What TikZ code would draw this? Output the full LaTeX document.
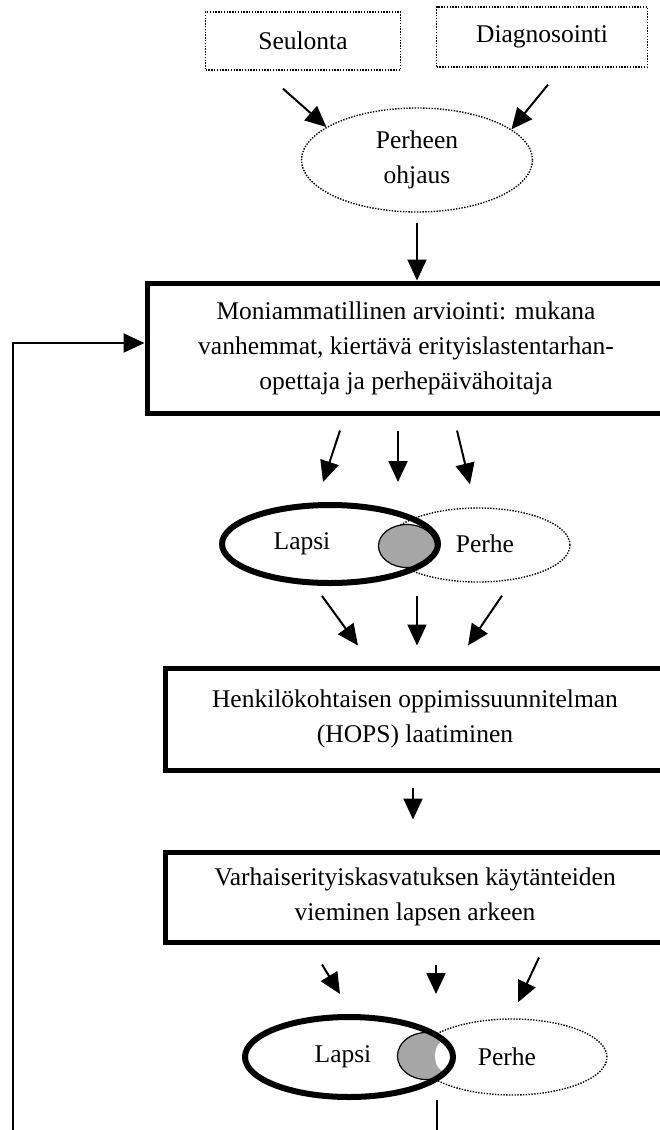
\documentclass[tikz,border=0pt]{standalone}
\usepackage{fontspec}
\setmainfont{Liberation Serif}
\usetikzlibrary{arrows.meta,shapes.geometric}

\begin{document}
\begin{tikzpicture}[
  x=1pt, y=-1pt,
  font=\fontsize{25.5}{35}\selectfont,
  dotbox/.style={draw, dash pattern=on 1.4pt off 1.4pt, line width=1.4pt, inner sep=0pt},
  dotell/.style={draw, ellipse, dash pattern=on 1.4pt off 1.4pt, line width=1.4pt, inner sep=0pt},
  mainbox/.style={draw, line width=5pt, align=center, inner sep=0pt, minimum width=500pt},
  lapsiell/.style={draw, ellipse, line width=6pt, inner sep=0pt},
  overlap/.style={draw, ellipse, fill=black!35, line width=1.2pt, inner sep=0pt},
  arr/.style={-{Triangle[length=21pt,width=19pt]}, line width=2pt},
  lab/.style={inner sep=0pt}
]
  \useasboundingbox (0,0) rectangle (660,1130);
  \clip (0,0) rectangle (660,1130);
  %% --- Top: sources and family guidance ---
  \node[dotbox, minimum width=195pt, minimum height=58pt] (seul) at (303,41) {Seulonta};
  \node[dotbox, minimum width=211pt, minimum height=60pt] (diag) at (542,37) {Diagnosointi};
  \node[dotell, minimum width=231pt, minimum height=104pt, align=center] (ohj) at (417,160) {Perheen\\ohjaus};
  %% --- Boxes ---
  \node[mainbox, minimum width=518pt, minimum height=130pt] (mon) at (406,348) {%
    Moniammatillinen arviointi: mukana\\
    vanhemmat, kiertävä erityislastentarhan-\\
    opettaja ja perhepäivähoitaja};
  \node[mainbox, minimum height=102pt] (hops) at (415,719) {%
    Henkilökohtaisen oppimissuunnitelman\\
    (HOPS) laatiminen};
  \node[mainbox, minimum height=90pt] (varh) at (415,897) {%
    Varhaiserityiskasvatuksen käytänteiden\\
    vieminen lapsen arkeen};
  %% --- Child and family, first ---
  \node[dotell, minimum width=184pt, minimum height=74pt] (perhe1) at (478,545) {};
  \node[overlap, minimum width=57pt, minimum height=43pt] (ov1) at (407,546) {};
  \node[lapsiell, minimum width=216pt, minimum height=78pt] (lapsi1) at (330,544) {};
  \node[lab] (lt1) at (302,544) {Lapsi};
  \node[lab] (pt1) at (485,544) {Perhe};
  %% --- Child and family, second ---
  \node[dotell, minimum width=190pt, minimum height=76pt] (perhe2) at (512,1057) {};
  \node[overlap, minimum width=57pt, minimum height=47pt] (ov2) at (426,1056) {};
  \node[fill=white, ellipse, inner sep=0pt, minimum width=18pt, minimum height=30pt] (ov2w) at (444,1056) {};
  \node[lapsiell, minimum width=208pt, minimum height=80pt] (lapsi2) at (349,1057) {};
  \node[lab] (lt2) at (343,1057) {Lapsi};
  \node[lab] (pt2) at (507,1057) {Perhe};
  %% --- Connectors ---
  \draw[arr] ([shift={(-20,18)}]seul.south) -- (ohj.160);
  \draw[arr] ([shift={(6,17)}]diag.south) -- (ohj.18);
  \draw[arr, shorten <=10pt] (ohj.south) -- (ohj.south |- mon.north);
  \draw[arr] ([shift={(-66,15)}]mon.south) -- ([shift={(-7,-20)}]lapsi1.north);
  \draw[arr] ([shift={(-8,15)}]mon.south) -- ([shift={(68,-20)}]lapsi1.north);
  \draw[arr] ([shift={(51,15)}]mon.south) -- ([shift={(-8,-23)}]perhe1.north);
  \draw[arr] ([shift={(-8,10)}]lapsi1.south) -- ([shift={(-57,-20)}]hops.north);
  \draw[arr] ([shift={(87,10)}]lapsi1.south) -- ([shift={(2,-20)}]hops.north);
  \draw[arr] ([shift={(24,13)}]perhe1.south) -- ([shift={(53,-20)}]hops.north);
  \draw[arr] ([shift={(-2,15)}]hops.south) -- ([shift={(-2,-30)}]varh.north);
  \draw[arr] ([shift={(-93,20)}]varh.south) -- ([shift={(-9,-20)}]lapsi2.north);
  \draw[arr] ([shift={(21,20)}]varh.south) -- ([shift={(87,-20)}]lapsi2.north);
  \draw[arr] ([shift={(124,13)}]varh.south) -- ([shift={(6,-16)}]perhe2.north);
  %% --- Feedback loop ---
  \coordinate (down) at (437,1140);
  \coordinate (back) at (13,1140);
  \draw[line width=2pt] (down |- lapsi2.south) -- (down);
  \draw[arr] (back) |- ([yshift=5pt]mon.west);
\end{tikzpicture}
\end{document}
